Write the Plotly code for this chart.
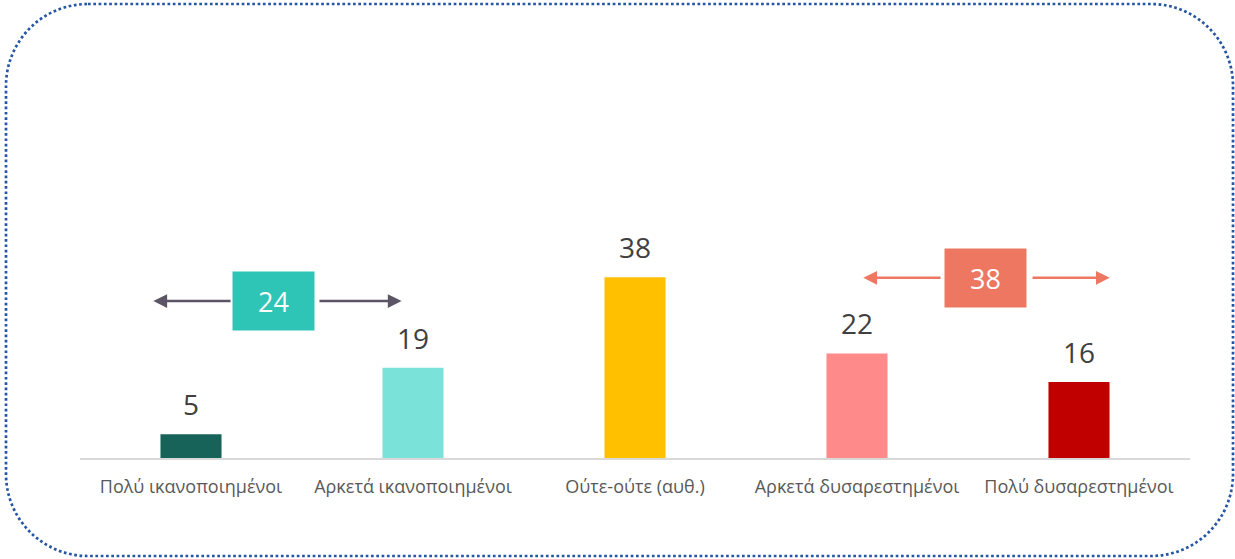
import plotly.graph_objects as go

categories = ["Πολύ ικανοποιημένοι", "Αρκετά ικανοποιημένοι", "Ούτε-ούτε (αυθ.)",
              "Αρκετά δυσαρεστημένοι", "Πολύ δυσαρεστημένοι"]
values = [5, 19, 38, 22, 16]
bar_colors = ["#17635A", "#7BE2D9", "#FFC000", "#FF8A8A", "#C00000"]

sum_labels = ["24", "38"]
sum_box_x = [0.372, 3.581]
sum_box_y = [33.0, 37.9]
sum_colors = ["#2EC4B6", "#EE7762"]
arrow_colors = ["#5B5566", "#EE7762"]
arrow_left = [(-0.183, 0.185), (3.015, 3.383)]   # (head, tail)
arrow_right = [(0.962, 0.572), (4.152, 3.784)]   # (head, tail)

W, H = 1235, 559
ML, MR, MT, MB = 80, 45, 30, 101
PW, PH = W - ML - MR, H - MT - MB
YMAX = 90

x = list(range(len(categories)))

fig = go.Figure()
fig.add_trace(go.Bar(x=x, y=values, marker=dict(color=bar_colors, line=dict(width=0)),
                     width=0.275, hoverinfo="skip"))

annotations = []
for xi, v in zip(x, values):
    annotations.append(dict(x=xi, y=v, text=str(v), showarrow=False, yanchor="middle",
                            yshift=30, font=dict(size=28, color="#404040", family="Open Sans")))

for i in range(2):
    annotations.append(dict(x=sum_box_x[i], y=sum_box_y[i], text=sum_labels[i], showarrow=False,
                            bgcolor=sum_colors[i], width=77, height=54, borderpad=2,
                            font=dict(size=27, color="white", family="Open Sans")))
    for head, tail in (arrow_left[i], arrow_right[i]):
        annotations.append(dict(x=head, y=sum_box_y[i], ax=tail, ay=sum_box_y[i],
                                xref="x", yref="y", axref="x", ayref="y", text="",
                                showarrow=True, arrowhead=2, arrowsize=1.1, arrowwidth=2.5,
                                arrowcolor=arrow_colors[i], standoff=3))

# rounded dotted border in pixel coords converted to paper
def px(xp):
    return (xp - ML) / PW

def py(yp):
    return (H - MB - yp) / PH

L, T, R, B, r = 6, 4, 1233, 556, 82
k = 0.5523 * r
pts = [
    ("M", [(L + r, T)]),
    ("L", [(R - r, T)]),
    ("C", [(R - r + k, T), (R, T + r - k), (R, T + r)]),
    ("L", [(R, B - r)]),
    ("C", [(R, B - r + k), (R - r + k, B), (R - r, B)]),
    ("L", [(L + r, B)]),
    ("C", [(L + r - k, B), (L, B - r + k), (L, B - r)]),
    ("L", [(L, T + r)]),
    ("C", [(L, T + r - k), (L + r - k, T), (L + r, T)]),
]
path = ""
for cmd, ps in pts:
    path += cmd + " ".join(f"{px(a):.5f},{py(b):.5f}" for a, b in ps) + " "
path += "Z"

fig.update_layout(
    width=W, height=H,
    margin=dict(l=ML, r=MR, t=MT, b=MB),
    paper_bgcolor="white", plot_bgcolor="white",
    showlegend=False,
    annotations=annotations,
    shapes=[dict(type="path", path=path, xref="paper", yref="paper",
                 line=dict(color="#2556A3", width=2.7, dash="2.7px,2.6px"))],
    xaxis=dict(tickmode="array", tickvals=x, ticktext=categories, range=[-0.5, 4.5],
               showgrid=False, zeroline=False, showline=True, linecolor="#D9D9D9", linewidth=2,
               ticks="outside", ticklen=11, tickcolor="rgba(0,0,0,0)",
               tickfont=dict(size=18, color="#595959", family="Open Sans")),
    yaxis=dict(range=[0, YMAX], visible=False, showgrid=False, zeroline=False),
)

fig.write_html("out.html", config={"displayModeBar": False},
               post_script="document.body.style.margin='0px';document.body.style.overflow='hidden';")
